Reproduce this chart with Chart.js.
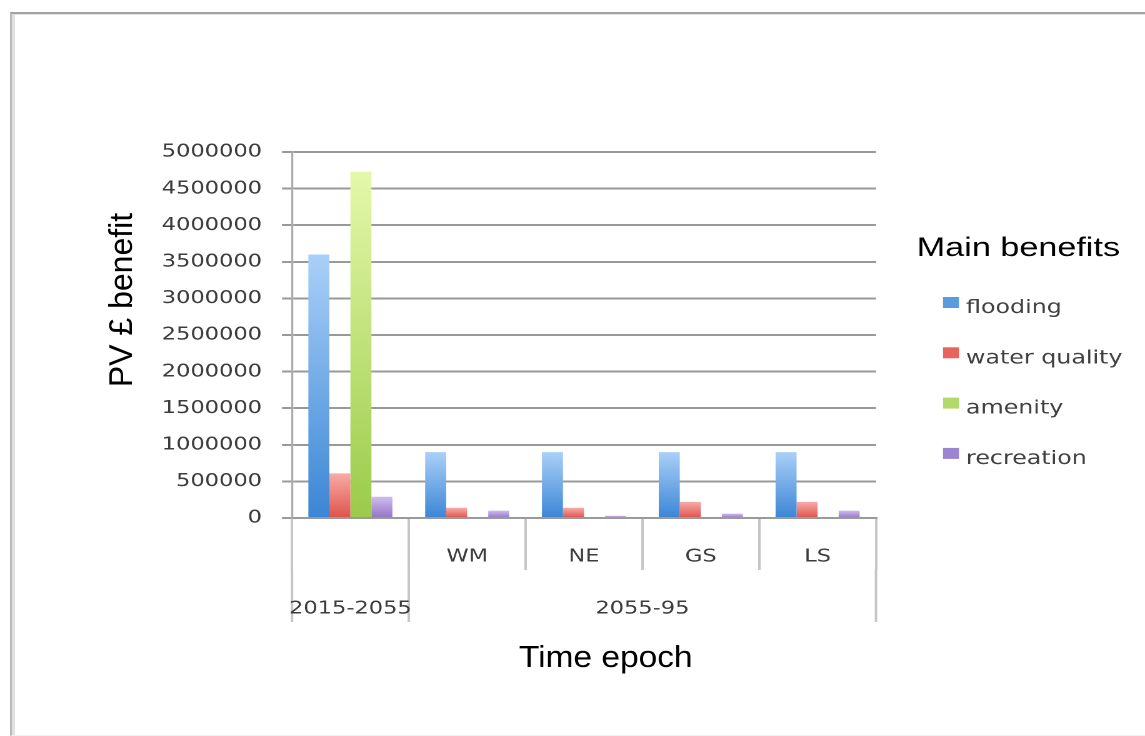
<!DOCTYPE html>
<html>
<head>
<meta charset="utf-8">
<title>PV £ benefit by time epoch</title>
<script src="https://cdn.jsdelivr.net/npm/chart.js@4/dist/chart.umd.min.js"></script>
<style>
  html, body { margin: 0; padding: 0; background: #ffffff; }
  #stage { position: relative; width: 1145px; height: 736px; overflow: hidden; }
  #frame {
    position: absolute; left: 10px; top: 12px; right: -20px; bottom: 0;
    border-top: 2px solid #a3a3a3; border-left: 2px solid #b9b9b9;
    border-bottom: 1px solid #efefef;
    box-shadow: inset 3px 1px 0 #e0e0e0;
  }
  #chart { position: absolute; left: 0; top: 0; }
</style>
</head>
<body>
<div id="stage">
  <div id="frame"></div>
  <canvas id="chart" width="916" height="736" style="width:1145px;height:736px"></canvas>
</div>
<script>
// Sub-regions along the x axis, and the time epochs that group them
const subregions = ['', 'WM', 'NE', 'GS', 'LS'];
const epochs = ['2015-2055', '2055-95'];
const epochSpans = [1, 4];

// Present-value benefit (£) per benefit type
const flooding     = [3600000, 900000, 900000, 900000, 900000];
const waterQuality = [610000, 140000, 140000, 220000, 220000];
const amenity      = [4730000, 0, 0, 0, 0];
const recreation   = [290000, 100000, 30000, 60000, 100000];

const seriesNames = ['flooding', 'water quality', 'amenity', 'recreation'];
const valueTicks = [0, 500000, 1000000, 1500000, 2000000, 2500000,
                    3000000, 3500000, 4000000, 4500000, 5000000];

const yTitle = 'PV £ benefit';
const xTitle = 'Time epoch';
const legendTitle = 'Main benefits';

// The drawing is laid out on a narrower canvas and widened on screen
const STRETCH = 1145 / 916;

const palette = [
  { top: '#aad0f8', bottom: '#3b86d6', key: '#5a9be0' },
  { top: '#f8aca8', bottom: '#df524c', key: '#e9635d' },
  { top: '#e4f8aa', bottom: '#9bcb4a', key: '#b2da6a' },
  { top: '#d0bdee', bottom: '#9374c6', key: '#9d84d0' }
];

// Vertical light-to-dark fill for each bar
function barFill(p) {
  return (ctx) => {
    const chart = ctx.chart;
    if (!chart.chartArea || ctx.type !== 'data' || !chart.scales.y) return p.bottom;
    const y = chart.scales.y;
    const v = ctx.parsed ? ctx.parsed.y : ctx.raw;
    const yTop = y.getPixelForValue(v);
    const yBase = y.getPixelForValue(0);
    if (!(yBase - yTop > 0.5)) return p.bottom;
    const g = chart.ctx.createLinearGradient(0, yTop, 0, yBase);
    g.addColorStop(0, p.top);
    g.addColorStop(1, p.bottom);
    return g;
  };
}

const FONT_TICK = { family: '"DejaVu Sans", Verdana, sans-serif', size: 18 };
const TICK_COLOR = '#3c3c3c';

// Epoch row under the sub-region labels, axis titles and the legend
const epochAxis = {
  id: 'epochAxis',
  afterDraw(chart) {
    const { ctx } = chart;
    const x = chart.scales.x;
    const n = subregions.length;
    const edge = (k) => x.left + (x.right - x.left) * k / n;
    const tickEnd = x.top + x.options.grid.tickLength;

    ctx.save();
    // long separators between epochs
    ctx.strokeStyle = '#c6c6c6';
    ctx.lineWidth = 2;
    const bounds = [0];
    epochSpans.reduce((acc, s) => { bounds.push(acc + s); return acc + s; }, 0);
    bounds.forEach((b) => {
      const px = edge(b);
      ctx.beginPath();
      ctx.moveTo(px, tickEnd - 1);
      ctx.lineTo(px, 622);
      ctx.stroke();
    });

    // epoch labels
    ctx.font = `${FONT_TICK.size}px ${FONT_TICK.family}`;
    ctx.fillStyle = TICK_COLOR;
    ctx.textAlign = 'center';
    ctx.textBaseline = 'middle';
    epochs.forEach((e, i) => {
      ctx.fillText(e, (edge(bounds[i]) + edge(bounds[i + 1])) / 2, 609);
    });
    ctx.restore();

    // y axis title
    ctx.save();
    ctx.translate(105.4, 300);
    ctx.scale(1 / STRETCH, 1);
    ctx.rotate(-Math.PI / 2);
    ctx.font = '32px "Liberation Sans", Arial, sans-serif';
    ctx.fillStyle = '#000000';
    ctx.textAlign = 'center';
    ctx.textBaseline = 'alphabetic';
    ctx.fillText(yTitle, 0, 0);
    ctx.restore();

    // x axis title
    ctx.save();
    ctx.translate(484.6, 667);
    ctx.scale(1.08 / STRETCH, 1);
    ctx.font = '31px "Liberation Sans", Arial, sans-serif';
    ctx.fillStyle = '#000000';
    ctx.textAlign = 'center';
    ctx.textBaseline = 'alphabetic';
    ctx.fillText(xTitle, 0, 0);
    ctx.restore();

    // legend
    ctx.save();
    ctx.translate(814.7, 256);
    ctx.scale(1.266 / STRETCH, 1);
    ctx.font = '27px "Liberation Sans", Arial, sans-serif';
    ctx.fillStyle = '#000000';
    ctx.textAlign = 'center';
    ctx.textBaseline = 'alphabetic';
    ctx.fillText(legendTitle, 0, 0);
    ctx.restore();

    ctx.save();
    ctx.font = `19px ${FONT_TICK.family}`;
    ctx.textAlign = 'left';
    ctx.textBaseline = 'alphabetic';
    chart.data.datasets.forEach((ds, i) => {
      const base = 313 + i * 50.3;
      ctx.fillStyle = palette[i].key;
      ctx.fillRect(754.4, base - 16, 12.8, 11);
      ctx.fillStyle = '#404040';
      ctx.fillText(ds.label, 772.8, base);
    });
    ctx.restore();
  }
};

const seriesValues = [flooding, waterQuality, amenity, recreation];

new Chart(document.getElementById('chart'), {
  type: 'bar',
  data: {
    labels: subregions,
    datasets: seriesValues.map((vals, i) => ({
      label: seriesNames[i],
      data: vals,
      backgroundColor: barFill(palette[i]),
      borderWidth: 0,
      categoryPercentage: 0.72,
      barPercentage: 1.0
    }))
  },
  options: {
    responsive: false,
    devicePixelRatio: 2,
    animation: false,
    layout: { padding: { top: 152, right: 215.2, bottom: 118, left: 0 } },
    plugins: {
      legend: { display: false },
      tooltip: { enabled: false }
    },
    scales: {
      x: {
        grid: {
          offset: true,
          drawOnChartArea: false,
          tickLength: 52,
          color: '#c6c6c6',
          lineWidth: 2
        },
        border: { color: '#9a9a9a', width: 2 },
        ticks: { padding: -24, font: FONT_TICK, color: TICK_COLOR, maxRotation: 0, autoSkip: false },
        afterFit: (s) => { s.height = 100; }
      },
      y: {
        min: valueTicks[0],
        max: valueTicks[valueTicks.length - 1],
        afterBuildTicks: (s) => { s.ticks = valueTicks.map((v) => ({ value: v })); },
        ticks: {
          padding: 16,
          font: FONT_TICK,
          color: TICK_COLOR,
          callback: (v) => String(v)
        },
        grid: { color: '#999999', lineWidth: 2, tickLength: 8 },
        border: { color: '#ababab', width: 1.6 },
        afterFit: (s) => { s.width = 233.6; }
      }
    }
  },
  plugins: [epochAxis]
});
</script>
</body>
</html>
